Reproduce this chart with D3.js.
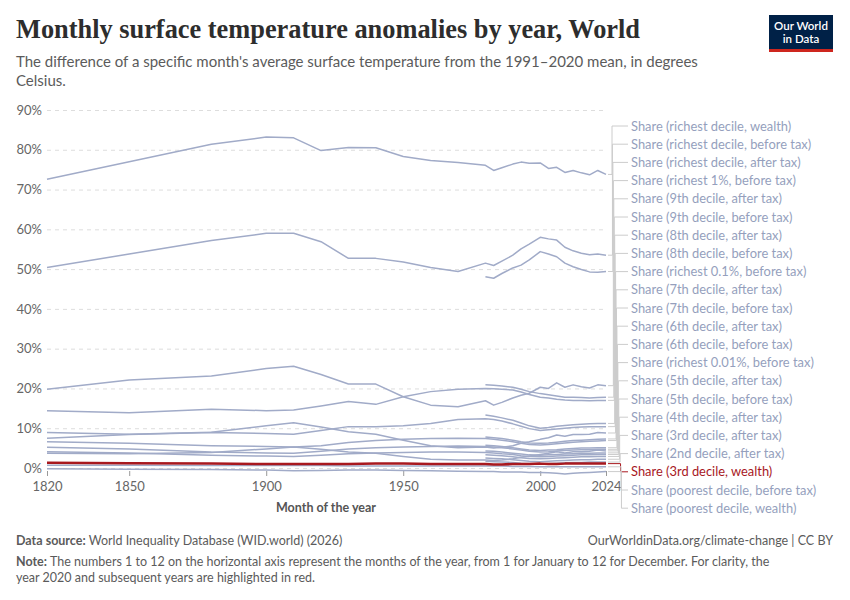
<!DOCTYPE html>
<html><head><meta charset="utf-8">
<script src="https://cdn.jsdelivr.net/npm/d3@7"></script>
<style>
body{margin:0;background:#fff;}
text{font-family:Lato, "Noto Sans", sans-serif;}
</style>
</head><body>
<svg id="c" width="850" height="600"></svg>
<script>
// ---------- DATA ----------
const longYears   = [1820,1850,1880,1900,1910,1920,1930,1940,1950,1960,1970];
const recentYears = [1980,1983,1986,1990,1993,1996,2000,2003,2006,2009,2012,2015,2018,2021,2024];
const yTicks = [0,10,20,30,40,50,60,70,80,90];
const xTicks = [1820,1850,1900,1950,2000,2024];

const seriesNames = [
  "Share (richest decile, wealth)",
  "Share (richest decile, before tax)",
  "Share (richest decile, after tax)",
  "Share (richest 1%, before tax)",
  "Share (9th decile, after tax)",
  "Share (9th decile, before tax)",
  "Share (8th decile, after tax)",
  "Share (8th decile, before tax)",
  "Share (richest 0.1%, before tax)",
  "Share (7th decile, after tax)",
  "Share (7th decile, before tax)",
  "Share (6th decile, after tax)",
  "Share (6th decile, before tax)",
  "Share (richest 0.01%, before tax)",
  "Share (5th decile, after tax)",
  "Share (5th decile, before tax)",
  "Share (4th decile, after tax)",
  "Share (3rd decile, after tax)",
  "Share (2nd decile, after tax)",
  "Share (3rd decile, wealth)",
  "Share (poorest decile, before tax)",
  "Share (poorest decile, wealth)"
];
const highlighted = "Share (3rd decile, wealth)";

// long-run values (1820..1970), null if series starts in 1980
const longValues = [
  [72.6,77.0,81.4,83.2,83.0,79.8,80.6,80.5,78.3,77.3,76.8],
  [50.4,53.8,57.2,59.0,59.0,56.9,52.7,52.7,51.8,50.4,49.4],
  null,
  [19.8,22.1,23.1,25.0,25.6,23.5,21.1,21.1,17.9,15.8,15.4],
  null,
  [14.4,13.9,14.8,14.4,14.6,15.6,16.7,16.0,17.9,19.2,19.8],
  null,
  [7.5,8.4,8.9,8.7,8.5,9.4,10.4,10.4,10.6,11.2,12.2],
  [8.9,8.5,9.0,10.6,11.4,10.3,9.1,8.5,7.0,5.6,5.1],
  null,
  [6.6,6.2,5.6,5.4,5.3,5.6,6.4,6.9,7.2,7.4,7.5],
  null,
  [5.2,4.8,4.0,3.8,3.7,4.2,4.8,5.1,5.3,5.4,5.5],
  [3.7,3.6,3.9,4.8,5.3,4.7,4.0,3.7,2.9,2.2,2.0],
  null,
  [4.1,3.8,3.2,3.0,2.9,3.2,3.6,3.8,3.9,4.0,4.0],
  null,
  null,
  null,
  [1.3,1.2,1.1,1.0,1.0,1.0,1.0,1.1,1.1,1.0,1.0],
  [0.7,0.7,0.6,0.6,0.6,0.6,0.5,0.5,0.5,0.5,0.5],
  [-0.2,-0.3,-0.4,-0.5,-0.7,-0.6,-0.5,-0.5,-0.6,-0.7,-0.8]
];
// values 1980..2024
const recentValues = [
  [76.1,74.8,75.5,76.4,76.9,76.6,76.7,75.3,75.6,74.3,74.8,74.2,73.7,74.8,73.8],
  [51.5,50.9,52.0,53.5,55.1,56.3,58.0,57.6,57.3,55.5,54.6,54.0,53.6,53.8,53.5],
  [48.1,47.7,48.9,50.3,51.0,52.3,54.4,53.8,53.1,51.5,50.6,49.9,49.3,49.2,49.4],
  [16.9,15.8,16.5,17.6,18.3,18.8,20.3,20.0,21.4,20.3,20.9,20.4,20.1,20.9,20.7],
  [20.9,20.8,20.6,20.3,19.8,19.2,18.7,18.4,18.1,17.8,17.8,17.7,17.6,17.7,17.8],
  [20.0,19.9,19.8,19.6,19.1,18.5,17.8,17.6,17.3,17.1,17.0,17.0,16.9,17.0,17.0],
  [13.3,13.0,12.6,12.0,11.3,10.6,10.0,10.2,10.5,10.7,10.9,11.0,11.1,11.2,11.2],
  [12.4,12.2,11.8,11.1,10.5,9.9,9.4,9.6,9.8,10.0,10.2,10.3,10.4,10.4,10.4],
  [5.3,5.0,5.2,5.6,6.2,6.6,7.2,7.6,8.3,8.0,8.4,8.4,8.5,8.9,8.8],
  [7.8,7.6,7.4,7.0,6.6,6.3,6.2,6.3,6.5,6.7,6.9,7.0,7.1,7.2,7.3],
  [7.4,7.2,7.0,6.6,6.2,5.9,5.8,5.9,6.1,6.3,6.5,6.6,6.7,6.8,6.9],
  [5.7,5.6,5.4,5.1,4.8,4.5,4.4,4.5,4.6,4.8,4.9,5.0,5.0,5.1,5.1],
  [5.4,5.3,5.1,4.8,4.5,4.2,4.0,4.1,4.3,4.4,4.5,4.6,4.6,4.7,4.7],
  [2.0,1.9,2.0,2.3,2.7,3.0,3.4,3.7,4.1,3.8,4.1,4.1,4.2,4.5,4.3],
  [4.3,4.2,4.0,3.7,3.5,3.3,3.2,3.3,3.4,3.5,3.6,3.7,3.7,3.8,3.8],
  [3.9,3.8,3.6,3.4,3.1,2.9,2.8,2.9,3.0,3.1,3.2,3.3,3.3,3.4,3.4],
  [3.3,3.2,3.1,2.8,2.6,2.4,2.3,2.4,2.5,2.6,2.7,2.8,2.8,2.9,2.9],
  [2.5,2.4,2.3,2.1,1.9,1.7,1.6,1.7,1.8,1.9,2.0,2.1,2.1,2.2,2.2],
  [1.7,1.6,1.5,1.4,1.2,1.1,1.0,1.1,1.2,1.3,1.4,1.4,1.5,1.5,1.5],
  [1.0,0.9,0.9,1.0,1.0,1.0,1.1,1.0,1.0,1.1,1.1,1.1,1.1,1.1,1.1],
  [0.5,0.5,0.5,0.4,0.4,0.4,0.3,0.3,0.3,0.3,0.3,0.3,0.3,0.3,0.3],
  [-0.9,-0.9,-1.0,-1.0,-1.0,-1.1,-1.1,-1.2,-1.3,-1.5,-1.3,-1.2,-1.1,-1.0,-0.9]
];

// ---------- BUILD ----------
const series = seriesNames.map((name,i)=>{
  const pts = [];
  if (longValues[i]) longYears.forEach((y,j)=>pts.push({year:y,value:longValues[i][j]}));
  recentYears.forEach((y,j)=>pts.push({year:y,value:recentValues[i][j]}));
  return {name, pts, hl: name===highlighted};
});

const svg = d3.select("#c");
const x = d3.scaleLinear().domain([1820,2024]).range([47,606]);
const y = d3.scaleLinear().domain([0,90]).range([468,110]);

const grey = "#a1abc8", red = "#a8181e";

// title
const title = svg.append("text").attr("x",16).attr("y",38)
  .style("font-family","'Liberation Serif', 'DejaVu Serif', serif")
  .style("font-weight","700")
  .style("font-size","27px").style("fill","#2d2d2d")
  .text("Monthly surface temperature anomalies by year, World");
const tw = title.node().getComputedTextLength();
title.style("font-size",(27*624/tw).toFixed(2)+"px");

const sub = svg.append("g").style("font-size","15px").style("fill","#5b5b5b");
sub.append("text").attr("x",16).attr("y",67).text("The difference of a specific month's average surface temperature from the 1991–2020 mean, in degrees");
sub.append("text").attr("x",16).attr("y",86).text("Celsius.");

// logo
const logo = svg.append("g");
logo.append("rect").attr("x",769).attr("y",15).attr("width",64).attr("height",37).attr("fill","#002147");
logo.append("rect").attr("x",769).attr("y",49).attr("width",64).attr("height",3).attr("fill","#ce261e");
logo.append("text").attr("x",801).attr("y",30).attr("text-anchor","middle").style("font-size","11.5px").style("fill","#fff").style("font-weight","600").text("Our World");
logo.append("text").attr("x",801).attr("y",43).attr("text-anchor","middle").style("font-size","11.5px").style("fill","#fff").style("font-weight","600").text("in Data");

// grid + y axis labels
const yAxis = d3.axisLeft(y).tickValues(yTicks).tickFormat(d=>d+"%").tickSize(-(606-47)).tickPadding(5);
const gy = svg.append("g").attr("transform","translate(47,0)").call(yAxis);
gy.select(".domain").remove();
gy.selectAll(".tick line").attr("stroke","#dddddd").attr("stroke-dasharray","4,4");
gy.selectAll(".tick text").attr("x",-5).style("font-size","13px").style("fill","#666").style("font-family","Lato, sans-serif");

// x axis
const xAxis = d3.axisBottom(x).tickValues(xTicks).tickFormat(d3.format("d")).tickSize(5).tickPadding(6);
const gx = svg.append("g").attr("transform","translate(0,471)").call(xAxis);
gx.select(".domain").remove();
gx.selectAll(".tick line").attr("stroke","#999");
gx.selectAll(".tick text").style("font-size","13px").style("fill","#666").style("font-family","Lato, sans-serif");
svg.append("text").attr("x",326).attr("y",512).attr("text-anchor","middle")
  .style("font-size","12.5px").style("font-weight","700").style("fill","#555").text("Month of the year");

// lines
const line = d3.line().x(d=>x(d.year)).y(d=>y(d.value));
const ordered = series.filter(s=>!s.hl).concat(series.filter(s=>s.hl));
svg.append("g").selectAll("path").data(ordered).join("path")
  .attr("d",d=>line(d.pts)).attr("fill","none")
  .attr("stroke",d=>d.hl?red:grey).attr("stroke-width",d=>d.hl?2.5:1.5)
  .attr("stroke-linejoin","round");

// legend with connectors
const labelX = 631, labelTop = 126, labelStep = 18.2;
const lg = svg.append("g");
series.forEach((s,i)=>{
  const ly = labelTop + i*labelStep;
  const endY = y(s.pts[s.pts.length-1].value);
  const vx = 612 + i*0.45;
  lg.append("path").attr("d",`M608,${endY}H${vx}V${ly}H628`).attr("fill","none")
    .attr("stroke",s.hl?red:"#cccccc").attr("stroke-width",1);
  lg.append("text").attr("x",labelX).attr("y",ly).attr("dy","0.35em")
    .style("font-size","12.9px").style("fill",s.hl?red:"#959fbd").text(s.name);
});

// footer
const f = svg.append("g").style("font-size","12.5px").style("fill","#5b5b5b");
const t1 = f.append("text").attr("x",16).attr("y",545);
t1.append("tspan").style("font-weight","700").text("Data source: ");
t1.append("tspan").text("World Inequality Database (WID.world) (2026)");
f.append("text").attr("x",833).attr("y",545).attr("text-anchor","end").text("OurWorldinData.org/climate-change | CC BY");
const t2 = f.append("text").attr("x",16).attr("y",566);
t2.append("tspan").style("font-weight","700").text("Note: ");
t2.append("tspan").text("The numbers 1 to 12 on the horizontal axis represent the months of the year, from 1 for January to 12 for December. For clarity, the");
f.append("text").attr("x",16).attr("y",582).text("year 2020 and subsequent years are highlighted in red.");
</script>
</body></html>
